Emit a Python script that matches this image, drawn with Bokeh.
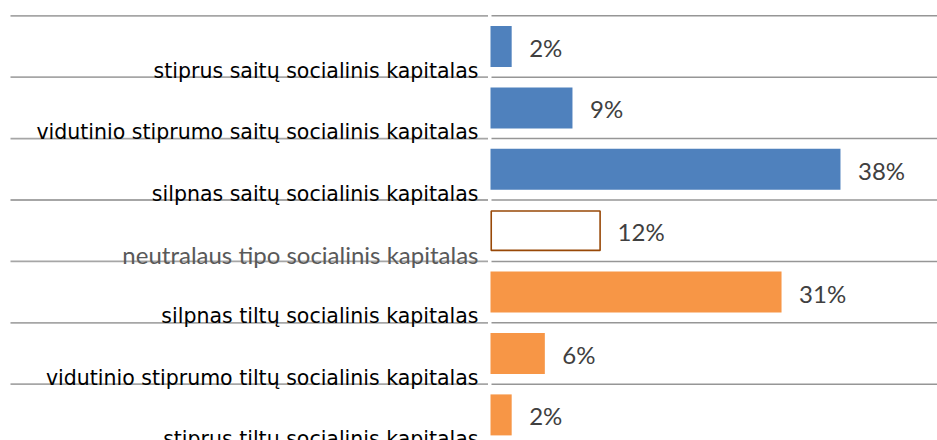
from bokeh.plotting import figure
from bokeh.models import Range1d, ColumnDataSource
from bokeh.core.properties import value
from bokeh.embed import file_html
from bokeh.resources import INLINE
import numpy as np

# ---- data ----
categories = [
    "stiprus saitų socialinis kapitalas",
    "vidutinio stiprumo saitų socialinis kapitalas",
    "silpnas saitų socialinis kapitalas",
    "neutralaus tipo socialinis kapitalas",
    "silpnas tiltų socialinis kapitalas",
    "vidutinio stiprumo tiltų socialinis kapitalas",
    "stiprus tiltų socialinis kapitalas",
]
values = [2.3, 8.9, 38.0, 11.9, 31.6, 5.9, 2.3]
value_labels = ["2%", "9%", "38%", "12%", "31%", "6%", "2%"]
groups = ["saitu", "saitu", "saitu", "neutral", "tiltu", "tiltu", "tiltu"]

# ---- layout ----
W, H = 937, 440
PX_PER_UNIT = 9.21          # px per percent
ZERO_PX = 490               # x of zero inside figure
ROW_PX = 61.4               # px per row
ROW0_CENTER = 46            # y of first row centre inside figure

x_start = -ZERO_PX / PX_PER_UNIT
x_end = (W - ZERO_PX) / PX_PER_UNIT
y_top = -ROW0_CENTER / ROW_PX
y_bottom = (H - ROW0_CENTER) / ROW_PX

p = figure(width=W, height=H, output_backend="svg", toolbar_location=None,
           x_axis_type=None, y_axis_type=None,
           x_range=Range1d(x_start, x_end), y_range=Range1d(y_bottom, y_top),
           min_border=0, outline_line_color=None)
p.grid.visible = False

n = len(categories)
idx = np.arange(n)
bounds = np.arange(n + 1) - 0.5

# separator lines (left: label area, right: plot area)
left_x0 = x_start + 10 / PX_PER_UNIT
left_x1 = -2.5 / PX_PER_UNIT
right_x0 = 1 / PX_PER_UNIT
p.segment(x0=[left_x0] * (n + 1), x1=[left_x1] * (n + 1), y0=bounds, y1=bounds,
          line_color="#A6A6A6", line_width=1.8)
p.segment(x0=[right_x0] * (n + 1), x1=[x_end] * (n + 1), y0=bounds, y1=bounds,
          line_color="#969696", line_width=1.5)

colors = {"saitu": "#4F81BD", "tiltu": "#F79646", "neutral": "#FFFFFF"}
lines = {"saitu": "#4F81BD", "tiltu": "#F79646", "neutral": "#984807"}
src = ColumnDataSource(dict(
    y=idx, v=values, lab=value_labels, cat=categories,
    fill=[colors[g] for g in groups], line=[lines[g] for g in groups],
))
neutral_i = [i for i, g in enumerate(groups) if g == "neutral"]
solid = [i for i, g in enumerate(groups) if g != "neutral"]

def sub(ids):
    return ColumnDataSource({k: [src.data[k][i] for i in ids] for k in src.data})

s_solid = sub(solid)
s_neu = sub(neutral_i)

bar_h = 41 / ROW_PX
p.hbar(y="y", left=0, right="v", height=bar_h, source=s_solid,
       fill_color="fill", line_color=None)
p.hbar(y="y", left=0.08, right="v", height=bar_h - 1.6 / ROW_PX, source=s_neu,
       fill_color="white", line_color="line", line_width=1.6)

# value labels
p.text(x="v", y="y", text="lab", source=src, x_offset=17.5, y_offset=1,
       text_font=value("Lato"), text_font_size="24px", text_color="#404040",
       text_align="left", text_baseline="middle")

# category labels
lab_x = -12 / PX_PER_UNIT
base_off = 0.5 - 6.5 / ROW_PX
s_solid.data["ly"] = [y + base_off for y in s_solid.data["y"]]
s_neu.data["ly"] = [y + base_off for y in s_neu.data["y"]]
p.text(x=lab_x, y="ly", text="cat", source=s_solid,
       text_font=value("DejaVu Sans"), text_font_size="20.5px", text_color="#000000",
       text_align="right", text_baseline="alphabetic")
p.text(x=lab_x, y="ly", text="cat", source=s_neu,
       text_font=value("Lato"), text_font_size="24px", text_color="#595959",
       text_align="right", text_baseline="alphabetic")

open("out.html", "w").write(file_html(p, INLINE))
